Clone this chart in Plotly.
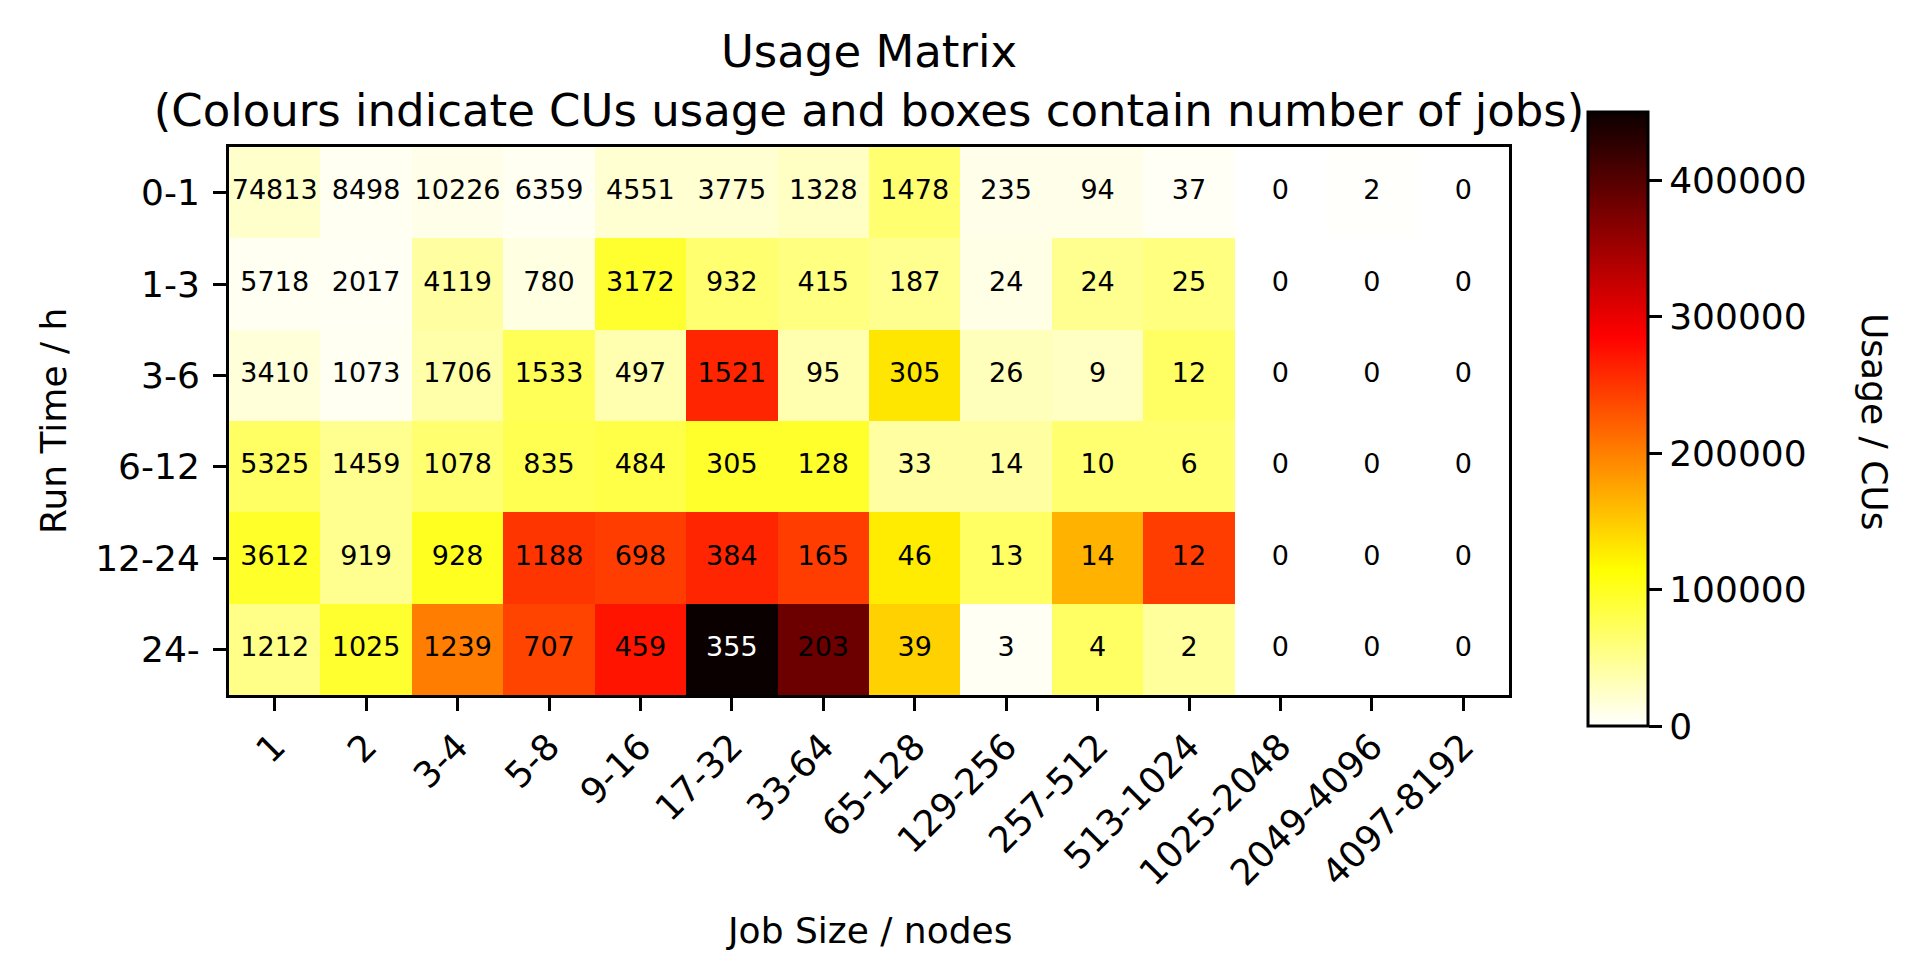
import plotly.graph_objects as go

# categories
job_sizes = ["1", "2", "3-4", "5-8", "9-16", "17-32", "33-64", "65-128",
             "129-256", "257-512", "513-1024", "1025-2048", "2049-4096", "4097-8192"]
run_times = ["0-1", "1-3", "3-6", "6-12", "12-24", "24-"]

# number of jobs per box (text)
jobs_0_1 = [74813, 8498, 10226, 6359, 4551, 3775, 1328, 1478, 235, 94, 37, 0, 2, 0]
jobs_1_3 = [5718, 2017, 4119, 780, 3172, 932, 415, 187, 24, 24, 25, 0, 0, 0]
jobs_3_6 = [3410, 1073, 1706, 1533, 497, 1521, 95, 305, 26, 9, 12, 0, 0, 0]
jobs_6_12 = [5325, 1459, 1078, 835, 484, 305, 128, 33, 14, 10, 6, 0, 0, 0]
jobs_12_24 = [3612, 919, 928, 1188, 698, 384, 165, 46, 13, 14, 12, 0, 0, 0]
jobs_24 = [1212, 1025, 1239, 707, 459, 355, 203, 39, 3, 4, 2, 0, 0, 0]

# CU usage per box (colours)
use_0_1 = [23000, 6000, 10000, 6000, 20000, 20000, 27000, 64000, 10000, 10000, 4000, 0, 2000, 0]
use_1_3 = [6000, 5000, 42000, 13000, 93000, 64000, 57000, 50000, 11000, 50000, 57000, 0, 0, 0]
use_3_6 = [17000, 6000, 38000, 75000, 36000, 261000, 36000, 131000, 30000, 27000, 70000, 0, 0, 0]
use_6_12 = [70000, 50000, 64000, 78000, 82000, 95000, 95000, 42000, 42000, 64000, 64000, 0, 0, 0]
use_12_24 = [96000, 50000, 100000, 250000, 245000, 261000, 245000, 127000, 70000, 166000, 245000, 0, 0, 0]
use_24 = [54000, 93000, 202000, 240000, 272000, 450000, 385000, 145000, 5000, 70000, 45000, 0, 0, 0]

jobs = [jobs_0_1, jobs_1_3, jobs_3_6, jobs_6_12, jobs_12_24, jobs_24]
usage = [use_0_1, use_1_3, use_3_6, use_6_12, use_12_24, use_24]

# matplotlib hot_r
hot_r = [[0.0, "rgb(255,255,255)"],
         [0.253968, "rgb(255,255,0)"],
         [0.634921, "rgb(255,0,0)"],
         [1.0, "rgb(11,0,0)"]]

zmax = max(max(r) for r in usage)
FONT = "DejaVu Sans"

fig = go.Figure()
fig.add_trace(go.Heatmap(
    z=usage, x=job_sizes, y=run_times,
    colorscale=hot_r, zmin=0, zmax=zmax,
    hoverinfo="skip",
    colorbar=dict(
        x=(1580 - 221) / 1280, xanchor="left", xpad=0,
        y=(687 - 411) / 548, yanchor="middle", ypad=0,
        thickness=60, thicknessmode="pixels",
        len=614, lenmode="pixels",
        outlinecolor="black", outlinewidth=3,
        ticks="outside", ticklen=13, tickwidth=3, tickcolor="black",
        tickvals=[0, 100000, 200000, 300000, 400000],
        ticktext=["0", "100000", "200000", "300000", "400000"],
        tickfont=dict(family=FONT, size=36, color="black"),
    ),
))

xs, ys, txt, cols = [], [], [], []
for i, rt in enumerate(run_times):
    for j, js in enumerate(job_sizes):
        xs.append(js)
        ys.append(rt)
        txt.append(str(jobs[i][j]))
        cols.append("white" if usage[i][j] > 0.9 * zmax else "black")

fig.add_trace(go.Scatter(
    x=xs, y=ys, mode="text", text=txt,
    textfont=dict(family=FONT, size=27, color=cols),
    hoverinfo="skip", showlegend=False,
))

axis_common = dict(
    showline=True, linecolor="black", linewidth=3, mirror=True,
    ticks="outside", ticklen=13, tickwidth=3, tickcolor="black",
    showgrid=False, zeroline=False,
    tickfont=dict(family=FONT, size=36, color="black"),
)

fig.update_layout(
    width=1906, height=969,
    margin=dict(l=221, r=405, t=139, b=282),
    paper_bgcolor="white", plot_bgcolor="white",
    showlegend=False,
    font=dict(family=FONT, color="black"),
    title=dict(
        text="Usage Matrix<br>(Colours indicate CUs usage and boxes contain number of jobs)",
        x=0.5, xref="paper", xanchor="center",
        y=1 - 59 / 969, yref="container", yanchor="middle",
        font=dict(family=FONT, size=45, color="black"),
    ),
    xaxis=dict(axis_common, tickangle=-45, categoryorder="array", categoryarray=job_sizes,
               range=[-0.5, len(job_sizes) - 0.5], ticklabelstandoff=0),
    yaxis=dict(axis_common, autorange="reversed", categoryorder="array", categoryarray=run_times,
               ticklabelstandoff=6),
    annotations=[
        dict(text="Job Size / nodes", x=0.5, y=(687 - 922) / 548, xref="paper", yref="paper",
             showarrow=False, xanchor="center", yanchor="middle",
             font=dict(family=FONT, size=36, color="black")),
        dict(text="Run Time / h", x=(45 - 221) / 1280, y=0.5, xref="paper", yref="paper",
             showarrow=False, xanchor="center", yanchor="middle", textangle=-90,
             font=dict(family=FONT, size=36, color="black")),
        dict(text="Usage / CUs", x=(1867 - 221) / 1280, y=0.5, xref="paper", yref="paper",
             showarrow=False, xanchor="center", yanchor="middle", textangle=90,
             font=dict(family=FONT, size=36, color="black")),
    ],
)

fig.write_html("out.html")
